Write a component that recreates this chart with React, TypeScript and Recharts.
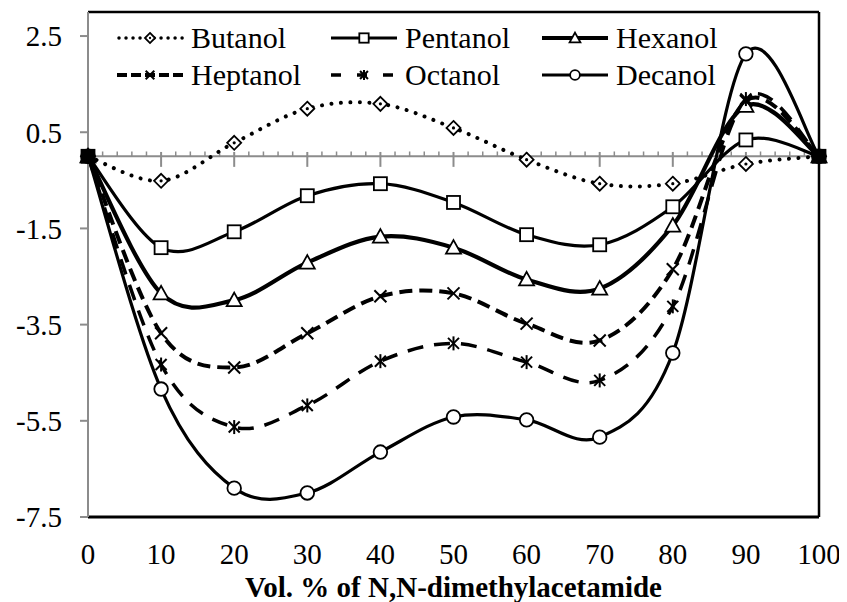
import { Line, LineChart, ReferenceLine, XAxis, YAxis } from 'recharts'

const volume = [0, 10, 20, 30, 40, 50, 60, 70, 80, 90, 100]
const butanol = [0, -0.51, 0.28, 0.99, 1.09, 0.59, -0.07, -0.57, -0.57, -0.16, 0]
const pentanol = [0, -1.9, -1.57, -0.82, -0.57, -0.96, -1.63, -1.84, -1.05, 0.34, 0]
const hexanol = [0, -2.85, -2.99, -2.21, -1.67, -1.9, -2.56, -2.75, -1.44, 1.05, 0]
const heptanol = [0, -3.68, -4.39, -3.68, -2.91, -2.85, -3.48, -3.83, -2.35, 1.15, 0]
const octanol = [0, -4.33, -5.63, -5.18, -4.26, -3.89, -4.28, -4.66, -3.12, 1.19, 0]
const decanol = [0, -4.84, -6.9, -7.0, -6.15, -5.42, -5.48, -5.84, -4.09, 2.13, 0]

const xTicks = [0, 10, 20, 30, 40, 50, 60, 70, 80, 90, 100]
const yTicks = [-7.5, -5.5, -3.5, -1.5, 0.5, 2.5]
const minorTicks = Array.from({ length: 49 }, (_, i) => (i + 1) * 2).filter((v) => v % 10 !== 0)
const majorTicks = [10, 20, 30, 40, 50, 60, 70, 80, 90]

const data = volume.map((v, i) => ({
  volume: v,
  butanol: butanol[i],
  pentanol: pentanol[i],
  hexanol: hexanol[i],
  heptanol: heptanol[i],
  octanol: octanol[i],
  decanol: decanol[i],
}))

const FONT = '"Liberation Serif", "Times New Roman", serif'
const GREY = '#8c8c8c'

// Excel-like smoothed line (Catmull-Rom through the points)
function smoothCurve(context: any) {
  let pts: number[][] = []
  return {
    areaStart() {},
    areaEnd() {},
    lineStart() {
      pts = []
    },
    point(x: number, y: number) {
      pts.push([+x, +y])
    },
    lineEnd() {
      if (!pts.length) return
      context.moveTo(pts[0][0], pts[0][1])
      for (let i = 0; i < pts.length - 1; i++) {
        const p0 = pts[Math.max(i - 1, 0)]
        const p1 = pts[i]
        const p2 = pts[i + 1]
        const p3 = pts[Math.min(i + 2, pts.length - 1)]
        context.bezierCurveTo(
          p1[0] + (p2[0] - p0[0]) / 6,
          p1[1] + (p2[1] - p0[1]) / 6,
          p2[0] - (p3[0] - p1[0]) / 6,
          p2[1] - (p3[1] - p1[1]) / 6,
          p2[0],
          p2[1],
        )
      }
    },
  }
}

type Shape = 'diamond' | 'square' | 'triangle' | 'cross' | 'star' | 'circle'

function Marker({
  shape,
  cx,
  cy,
  fill = '#fff',
  k = 1,
}: {
  shape: Shape
  cx: number
  cy: number
  fill?: string
  k?: number
}) {
  const sw = 1.8
  const d = 7 * k
  switch (shape) {
    case 'diamond':
      return (
        <g>
          <polygon
            points={`${cx},${cy - d} ${cx + d},${cy} ${cx},${cy + d} ${cx - d},${cy}`}
            fill={fill}
            stroke="#000"
            strokeWidth={sw}
          />
          <circle cx={cx} cy={cy} r={1.6 * k} fill="#000" />
        </g>
      )
    case 'square':
      return (
        <rect x={cx - 6.5 * k} y={cy - 6.5 * k} width={13 * k} height={13 * k} fill={fill} stroke="#000" strokeWidth={sw} />
      )
    case 'triangle':
      return (
        <polygon
          points={`${cx},${cy - 7.5 * k} ${cx + 7.5 * k},${cy + 6 * k} ${cx - 7.5 * k},${cy + 6 * k}`}
          fill={fill}
          stroke="#000"
          strokeWidth={sw}
        />
      )
    case 'cross':
      return (
        <g stroke="#000" strokeWidth={2}>
          <line x1={cx - 6 * k} y1={cy - 6 * k} x2={cx + 6 * k} y2={cy + 6 * k} />
          <line x1={cx - 6 * k} y1={cy + 6 * k} x2={cx + 6 * k} y2={cy - 6 * k} />
        </g>
      )
    case 'star':
      return (
        <g stroke="#000" strokeWidth={2}>
          <line x1={cx - 5.5 * k} y1={cy - 5.5 * k} x2={cx + 5.5 * k} y2={cy + 5.5 * k} />
          <line x1={cx - 5.5 * k} y1={cy + 5.5 * k} x2={cx + 5.5 * k} y2={cy - 5.5 * k} />
          <line x1={cx} y1={cy - d} x2={cx} y2={cy + d} />
        </g>
      )
    default:
      return <circle cx={cx} cy={cy} r={6.8 * k} fill={fill} stroke="#000" strokeWidth={sw} />
  }
}

const series = [
  { key: 'butanol', name: 'Butanol', shape: 'diamond' as Shape, width: 4, dash: '0.01 9.5', legendDash: '0.01 7' },
  { key: 'pentanol', name: 'Pentanol', shape: 'square' as Shape, width: 3.2, dash: undefined, legendDash: undefined },
  { key: 'hexanol', name: 'Hexanol', shape: 'triangle' as Shape, width: 4.2, dash: undefined, legendDash: undefined },
  { key: 'heptanol', name: 'Heptanol', shape: 'cross' as Shape, width: 4, dash: '13 7', legendDash: '10 4' },
  { key: 'octanol', name: 'Octanol', shape: 'star' as Shape, width: 3.5, dash: '16 11', legendDash: '10 16' },
  { key: 'decanol', name: 'Decanol', shape: 'circle' as Shape, width: 3.2, dash: undefined, legendDash: undefined },
]

function renderDot(shape: Shape) {
  return (props: any) => {
    const { cx, cy, index } = props
    const end = index === 0 || index === volume.length - 1
    return (
      <g key={`${shape}-${index}`}>
        <Marker shape={shape} cx={cx} cy={cy} fill={end ? '#000' : '#fff'} />
      </g>
    )
  }
}

function ChartLegend() {
  return (
    <div
      style={{
        position: 'absolute',
        top: 11,
        left: 108,
        display: 'grid',
        gridTemplateColumns: '214px 211px 200px',
        fontFamily: FONT,
        fontSize: 30,
        lineHeight: '37px',
        color: '#000',
        pointerEvents: 'none',
      }}
    >
      {series.map((s) => (
        <div key={s.key} style={{ display: 'flex', alignItems: 'center', whiteSpace: 'nowrap' }}>
          <svg width={68} height={20} style={{ marginRight: 7 }}>
            <line
              x1={s.key === 'butanol' ? 3 : 1}
              y1={10}
              x2={67}
              y2={10}
              stroke="#000"
              strokeWidth={s.key === 'butanol' ? 3.5 : s.width}
              strokeDasharray={s.legendDash}
              strokeLinecap={s.key === 'butanol' ? 'round' : 'butt'}
            />
            <Marker shape={s.shape} cx={34} cy={10} k={0.72} />
          </svg>
          <span>{s.name}</span>
        </div>
      ))}
    </div>
  )
}

export default function App() {
  return (
    <div style={{ width: 839, height: 594, position: 'relative', fontFamily: FONT }}>
      <LineChart width={839} height={594} data={data} margin={{ top: 4, right: 28, bottom: 0, left: 0 }}>
        <XAxis
          dataKey="volume"
          type="number"
          domain={[0, 100]}
          ticks={xTicks}
          axisLine={false}
          tickLine={false}
          tickSize={0}
          tickMargin={26}
          height={85}
          tick={{ fontSize: 29, fill: '#000', fontFamily: FONT }}
          label={{
            value: 'Vol. % of N,N-dimethylacetamide',
            position: 'insideBottom',
            offset: 5,
            style: { fontSize: 29, fontWeight: 'bold', fill: '#000', fontFamily: FONT },
          }}
        />
        <YAxis
          type="number"
          domain={[-7.5, 3]}
          ticks={yTicks}
          width={80}
          axisLine={{ stroke: GREY, strokeWidth: 2 }}
          tickLine={{ stroke: GREY, strokeWidth: 2 }}
          tickSize={8}
          tickMargin={18}
          tick={{ fontSize: 29, fill: '#000', fontFamily: FONT }}
        />
        <ReferenceLine y={3} stroke="#000" strokeWidth={2.5} />
        <ReferenceLine x={100} stroke="#000" strokeWidth={2.5} />
        <ReferenceLine y={-7.5} stroke="#000" strokeWidth={3} />
        <ReferenceLine y={0} stroke={GREY} strokeWidth={2} />
        {minorTicks.map((t) => (
          <ReferenceLine
            key={`mn${t}`}
            segment={[
              { x: t, y: 0 },
              { x: t, y: 0.1 },
            ]}
            stroke={GREY}
            strokeWidth={1.5}
          />
        ))}
        {majorTicks.map((t) => (
          <ReferenceLine
            key={`mj${t}`}
            segment={[
              { x: t, y: 0.09 },
              { x: t, y: -0.22 },
            ]}
            stroke={GREY}
            strokeWidth={2}
          />
        ))}
        {series.map((s) => (
          <Line
            key={s.key}
            dataKey={s.key}
            name={s.name}
            type={smoothCurve as any}
            stroke="#000"
            strokeWidth={s.width}
            strokeDasharray={s.dash}
            strokeLinecap={s.key === 'butanol' ? 'round' : 'butt'}
            dot={renderDot(s.shape)}
            activeDot={false}
            isAnimationActive={false}
          />
        ))}
      </LineChart>
      <ChartLegend />
    </div>
  )
}
